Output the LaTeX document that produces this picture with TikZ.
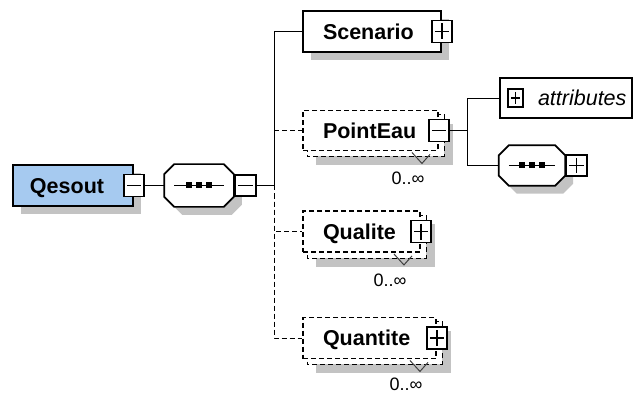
\documentclass[tikz,border=0pt]{standalone}
\usepackage{fontspec}
\setmainfont{Liberation Sans}
\usetikzlibrary{calc,shadows}
\definecolor{qblue}{RGB}{166,202,240}
\definecolor{shadowgrey}{RGB}{195,195,195}
\pgfdeclarelayer{back}
\pgfsetlayers{back,main}
\newcommand\elemfont{\fontsize{21.5}{24}\selectfont\bfseries}
\newcommand\attrfont{\fontsize{21.5}{24}\selectfont\itshape}
\newcommand\occfont{\fontsize{18}{20}\selectfont}
\newcommand\octa[1]{%
  \draw[seqline, fill=white, sh]
    ($(#1.north west)+(10,0)$) -- ($(#1.north east)+(-10,0)$) --
    ($(#1.north east)+(0,10)$) -- ($(#1.south east)+(0,-10)$) --
    ($(#1.south east)+(-10,0)$) -- ($(#1.south west)+(10,0)$) --
    ($(#1.south west)+(0,-10)$) -- ($(#1.north west)+(0,10)$) -- cycle;
  \draw[seqline] ($(#1.west)+(10,0)$) -- ($(#1.east)+(-10,0)$);
  \foreach \d in {-10,0,10}{\fill ($(#1.center)+(\d-3,-3)$) rectangle ++(6,6);}
}
\newcommand\occmark[1]{%
  \draw[line width=1pt, black!75] ($(#1.south east)+(-27,1)$) -- ($(#1.south east)+(-17,12)$) -- ($(#1.south east)+(-9,3)$);
}
\begin{document}
\begin{tikzpicture}[x=1pt, y=-1pt, line width=1.7pt,
  sh/.style={drop shadow={shadow xshift=8pt, shadow yshift=-8pt, fill=shadowgrey, opacity=1}},
  seqline/.style={line width=1.7pt},
  elem/.style={draw, line width=1.9pt, fill=white, inner ysep=0pt, inner xsep=20pt,
    minimum height=41pt, font=\elemfont, text height=15.4pt, text depth=0pt, align=left},
  optelem/.style={elem, dash pattern=on 5pt off 3pt, minimum height=40pt},
  dsh/.style={dash pattern=on 5pt off 3pt},
  seqbox/.style={draw=none, inner sep=0pt, minimum width=68pt, minimum height=41pt},
  pmbox/.style={draw, solid, fill=white, line width=1.7pt, minimum width=20pt, minimum height=22pt, inner sep=0pt},
  minusbox/.style={pmbox, path picture={\draw[line width=1.7pt] ([xshift=3pt]path picture bounding box.west) -- ([xshift=-3pt]path picture bounding box.east);}},
  plusbox/.style={pmbox, path picture={\draw[line width=1.7pt] ([xshift=3pt]path picture bounding box.west) -- ([xshift=-3pt]path picture bounding box.east);
     \draw[line width=1.7pt] ([yshift=-3pt]path picture bounding box.north) -- ([yshift=3pt]path picture bounding box.south);}},
  occ/.style={font=\occfont, inner sep=0pt}
]
\useasboundingbox (0,0) rectangle (633,396);

% root element
\node[elem, fill=qblue, sh, minimum width=120pt, inner xsep=17pt, text width=86pt] (q) at (73,185.5) {\mbox{Qesout}};
\node[minusbox] (qpm) at (q.east) {};

% sequence 1
\node[seqbox] (s1) at (199,185.5) {};
\octa{s1}
\node[minusbox, anchor=west, minimum width=21pt, minimum height=21pt] (s1pm) at (s1.east) {};

% children
\node[elem, sh, minimum width=138pt, text width=98pt] (scen) at (372,31.5) {\mbox{Scenario}};
\node[plusbox] (scenpm) at (scen.east) {};

\node[optelem, minimum width=135pt, text width=95pt] (pe) at (370.5,130.5) {\mbox{PointEau}};
\node[minusbox] (pepm) at (pe.east) {};

\node[optelem, minimum width=117pt, text width=77pt, minimum height=41pt] (qual) at (361.5,231.5) {\mbox{Qualite}};
\node[plusbox] (qualpm) at (qual.east) {};

\node[optelem, minimum width=133pt, text width=93pt, minimum height=41pt] (quant) at (369.5,338) {\mbox{Quantite}};
\node[plusbox] (quantpm) at (quant.east) {};

% stacked back boxes and their shadows
\begin{pgfonlayer}{back}
  \foreach \n in {pe,qual,quant}{
    \fill[shadowgrey] ($(\n.north west)+(14,14)$) rectangle ($(\n.south east)+(14,14)$);
    \draw[dsh, fill=white] ($(\n.north west)+(5,5)$) rectangle ($(\n.south east)+(5,5)$);
  }
\end{pgfonlayer}

% occurrence labels
\occmark{pe}
\occmark{qual}
\occmark{quant}
\node[occ] (peocc) at ($(pe.south east)+(-31,27)$) {0..∞};
\node[occ] (qualocc) at ($(qual.south east)+(-31,27)$) {0..∞};
\node[occ] (quantocc) at ($(quant.south east)+(-31,25)$) {0..∞};

% PointEau children
\node[draw, line width=1.9pt, fill=white, minimum width=132pt, minimum height=40pt, inner ysep=0pt,
  text width=56pt, align=left, font=\attrfont, text height=15.4pt, text depth=0pt] (attr) at (566,98) {\mbox{attributes}};
\node[plusbox, minimum width=15pt, minimum height=18pt] (attrpm) at ($(attr.west)+(16.5,0)$) {};

\node[seqbox, minimum width=66pt, minimum height=40pt] (s2) at (532,165.5) {};
\octa{s2}
\node[plusbox, anchor=west, minimum width=21pt, minimum height=21pt] (s2pm) at (s2.east) {};

% connectors
\draw (qpm.east) -- (s1.west);
\coordinate (t) at (274,185.5);
\draw (s1pm.east) -- (t) |- (scen.west);
\draw[dsh] (t |- pe.west) -- (pe.west);
\draw[dsh] (t) |- (qual.west);
\draw[dsh] (t) |- (quant.west);

\coordinate (b) at (467,130.5);
\draw (pepm.east) -- (b);
\draw (b) |- (attr.west);
\draw (b) |- (s2.west);
\end{tikzpicture}
\end{document}
